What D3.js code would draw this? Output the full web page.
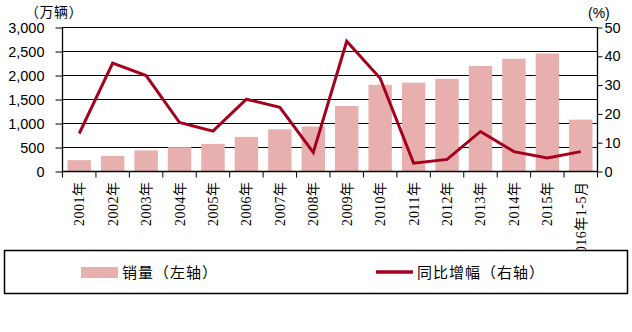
<!DOCTYPE html>
<html><head><meta charset="utf-8">
<script src="https://cdn.jsdelivr.net/npm/d3@7"></script>
<style>
body{margin:0;background:#fff;}
svg{display:block;}
</style></head>
<body>
<svg id="c" width="632" height="332"></svg>
<script>
const categories = ["2001年","2002年","2003年","2004年","2005年","2006年","2007年","2008年","2009年","2010年","2011年","2012年","2013年","2014年","2015年","2016年1-5月"];
const sales = [236, 325, 439, 507, 576, 722, 879, 938, 1364, 1806, 1851, 1931, 2198, 2349, 2460, 1080];
const growth = [13.2, 37.6, 33.3, 17.0, 14.0, 25.1, 22.3, 6.6, 45.2, 32.4, 2.9, 4.2, 13.9, 6.9, 4.7, 6.9];
const leftTicks = [0, 500, 1000, 1500, 2000, 2500, 3000];
const rightTicks = [0, 10, 20, 30, 40, 50];
const leftUnit = "（万辆）";
const rightUnit = "(%)";
const legendLabels = ["销量（左轴）", "同比增幅（右轴）"];

const barColor = "#E8AFAF", lineColor = "#A6001F";
const svg = d3.select("#c");
const L = 62.5, R = 597.5, T = 27.5, B = 171.5;

const x = d3.scaleBand().domain(categories).range([L, R]).paddingInner(0.3).paddingOuter(0.15);
const yL = d3.scaleLinear().domain([0, 3000]).range([B, T]);
const yR = d3.scaleLinear().domain([0, 50]).range([B, T]);

// gridlines
svg.append("g").selectAll("line").data(leftTicks.filter(d => d > 0)).join("line")
  .attr("x1", L).attr("x2", R).attr("y1", d => yL(d)).attr("y2", d => yL(d))
  .attr("stroke", "#000").attr("stroke-width", 1);

// bars
svg.append("g").selectAll("rect").data(sales).join("rect")
  .attr("x", (d, i) => x(categories[i]))
  .attr("width", x.bandwidth())
  .attr("y", d => yL(d))
  .attr("height", d => B - yL(d))
  .attr("fill", barColor);

// line
const line = d3.line().x((d, i) => x(categories[i]) + x.bandwidth() / 2).y(d => yR(d));
svg.append("path").datum(growth).attr("d", line)
  .attr("fill", "none").attr("stroke", lineColor).attr("stroke-width", 3).attr("stroke-linejoin", "miter");

// axes
const numFont = "'Liberation Sans', Arial, sans-serif";
const gL = svg.append("g").attr("transform", `translate(${L},0)`)
  .call(d3.axisLeft(yL).tickValues(leftTicks).tickFormat(d3.format(",")).tickSize(7).tickPadding(11));
const gR = svg.append("g").attr("transform", `translate(${R},0)`)
  .call(d3.axisRight(yR).tickValues(rightTicks).tickSize(5).tickPadding(2));
[gL, gR].forEach(g => {
  g.select(".domain").attr("stroke", "#000").attr("stroke-width", 1.3);
  g.selectAll(".tick line").attr("stroke", "#000");
  g.selectAll("text").attr("font-family", numFont).attr("font-size", 14.5).attr("fill", "#000");
});
gL.select(".domain").attr("d", `M0,${T}V${B}`);
gR.select(".domain").attr("d", `M0,${T}V${B}`);

// x axis with ticks at band boundaries
const gX = svg.append("g");
gX.append("line").attr("x1", L).attr("x2", R).attr("y1", B).attr("y2", B).attr("stroke", "#000").attr("stroke-width", 1.3);
const step = x.step();
const bounds = categories.map((c, i) => x(c) - (step - x.bandwidth()) / 2).concat([R]);
gX.selectAll("line.t").data(bounds).join("line").attr("class", "t")
  .attr("x1", d => d).attr("x2", d => d).attr("y1", B).attr("y2", B + 6).attr("stroke", "#000");
gX.selectAll("text").data(categories).join("text")
  .attr("transform", d => `translate(${x(d) + x.bandwidth() / 2 + 5},${B + 10}) rotate(-90)`)
  .attr("text-anchor", "end")
  .attr("font-family", "'Liberation Serif', 'Noto Sans CJK SC', serif")
  .attr("font-size", 14)
  .attr("letter-spacing", 0.5)
  .attr("fill", "#000")
  .text(d => d);

// unit labels
svg.append("text").attr("x", 25).attr("y", 17).attr("font-family", "'Noto Sans CJK SC', sans-serif")
  .attr("font-size", 14).attr("letter-spacing", 0.5).attr("fill", "#000").text(leftUnit);
svg.append("text").attr("x", 588).attr("y", 18).attr("font-family", numFont)
  .attr("font-size", 14).attr("fill", "#000").text(rightUnit);

// legend
const lg = svg.append("g");
lg.append("rect").attr("x", 4.5).attr("y", 250.5).attr("width", 623).attr("height", 43)
  .attr("fill", "#fff").attr("stroke", "#000").attr("stroke-width", 1.5);
lg.append("rect").attr("x", 81).attr("y", 267).attr("width", 37).attr("height", 11).attr("fill", barColor);
lg.append("text").attr("x", 122).attr("y", 278).attr("font-family", "'Noto Sans CJK SC', sans-serif")
  .attr("font-size", 15).attr("letter-spacing", 1).attr("fill", "#000").text(legendLabels[0]);
lg.append("line").attr("x1", 376).attr("x2", 413).attr("y1", 272).attr("y2", 272)
  .attr("stroke", lineColor).attr("stroke-width", 3.5);
lg.append("text").attr("x", 417).attr("y", 278).attr("font-family", "'Noto Sans CJK SC', sans-serif")
  .attr("font-size", 15).attr("letter-spacing", 1).attr("fill", "#000").text(legendLabels[1]);
</script>
</body></html>
